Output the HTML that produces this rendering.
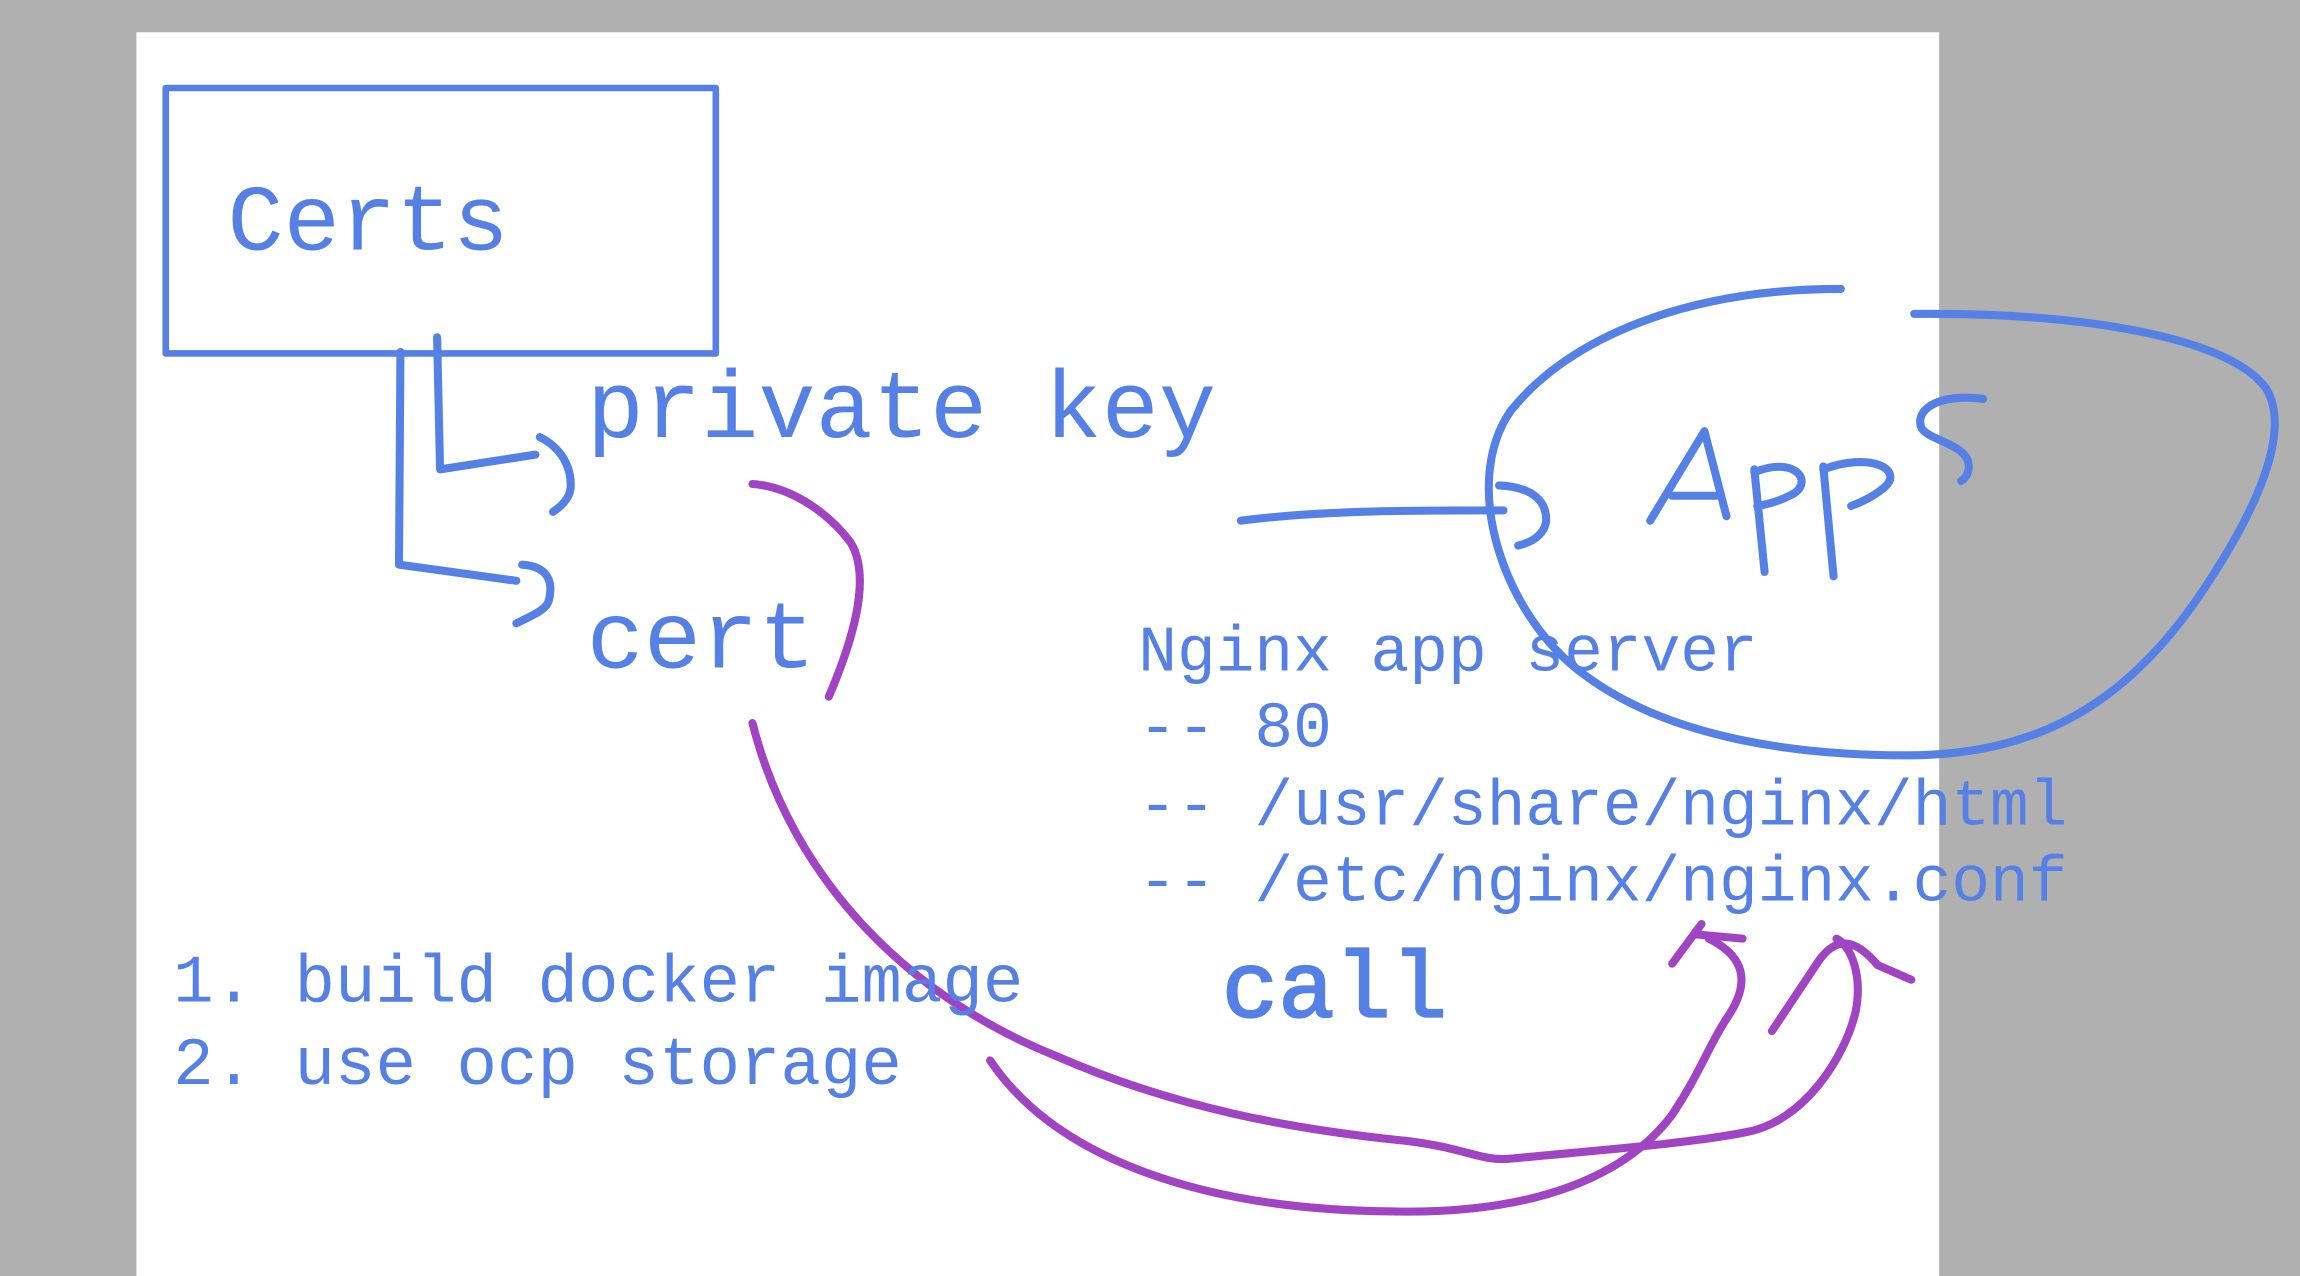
<!DOCTYPE html>
<html><head><meta charset="utf-8"><style>
html,body{margin:0;padding:0;background:#b0b0b0;}
svg{display:block;}
text{font-family:"Liberation Mono",monospace;fill:#5580e6;}
</style></head><body>
<svg width="2300" height="1276" viewBox="0 0 1568 870" preserveAspectRatio="none" xmlns="http://www.w3.org/2000/svg">
<rect x="0" y="0" width="1568" height="870" fill="#b0b0b0"/>
<rect x="93" y="22" width="1229" height="848" fill="#ffffff"/>
<g fill="none" stroke="#5580e6" stroke-width="5.5" stroke-linecap="round" stroke-linejoin="round">
<rect x="113" y="60" width="375" height="181" stroke-width="4.5"/>
<path d="M273 240 L272 385 L352 396"/>
<path d="M356 385 C372 386 378 395 374 410 C372 416 362 420 352 425"/>
<path d="M298 230 L300 320 L365 310"/>
<path d="M368 298 C382 305 390 318 389 333 C388 340 383 345 377 349"/>
<path d="M846 355 C900 348 960 348 1025 348"/>
<path d="M1022 331 C1045 332 1055 342 1054 356 C1052 366 1043 370 1035 372"/>
<path d="M1255 197 C1150 197 1070 230 1030 280 C995 330 1025 420 1080 460 C1140 505 1230 515 1300 515 C1400 515 1460 470 1510 390 C1545 335 1560 290 1545 265 C1520 230 1420 213 1305 214"/>
<path d="M1125 355 L1162 294 L1177 352"/>
<path d="M1140 338 L1170 338"/>
<path d="M1196 320 L1203 390"/>
<path d="M1196 322 C1225 310 1238 330 1220 338 C1212 342 1205 344 1198 345"/>
<path d="M1243 318 L1250 393"/>
<path d="M1243 320 C1275 308 1298 320 1285 332 C1278 338 1270 342 1262 345"/>
<path d="M1352 272 C1320 268 1305 280 1310 292 C1315 300 1340 303 1342 316 C1343 322 1340 326 1337 328"/>
</g>
<g fill="none" stroke="#a044c4" stroke-width="5.5" stroke-linecap="round" stroke-linejoin="round">
<path d="M513 330 C540 332 565 350 580 370 C595 395 580 440 565 475"/>
<path d="M513 493 C540 600 620 680 720 720 C800 755 880 770 960 778 C1000 783 1010 792 1030 790 C1080 785 1150 780 1190 772 C1230 765 1258 720 1265 690 C1270 665 1262 645 1252 640"/>
<path d="M1208 703 L1240 655 C1252 638 1265 640 1280 658 L1303 668"/>
<path d="M675 723 C720 790 820 825 950 826 C1050 828 1110 800 1140 760 C1160 730 1165 712 1180 690 C1195 665 1185 650 1165 640"/>
<path d="M1140 657 L1160 630 M1155 637 L1188 640"/>
</g>
<text x="155" y="170" font-size="64">Certs</text>
<text x="400" y="298" font-size="65">private key</text>
<text x="400" y="455" font-size="65">cert</text>
<text x="776" y="457" font-size="44">Nginx app server</text>
<text x="776" y="509" font-size="44">-- 80</text>
<text x="776" y="562" font-size="44">-- /usr/share/nginx/html</text>
<text x="776" y="614" font-size="44">-- /etc/nginx/nginx.conf</text>
<text x="833" y="693" font-size="64" stroke="#5580e6" stroke-width="1.5">call</text>
<text x="118" y="683" font-size="46">1. build docker image</text>
<text x="118" y="739" font-size="46">2. use ocp storage</text>
</svg>
</body></html>
